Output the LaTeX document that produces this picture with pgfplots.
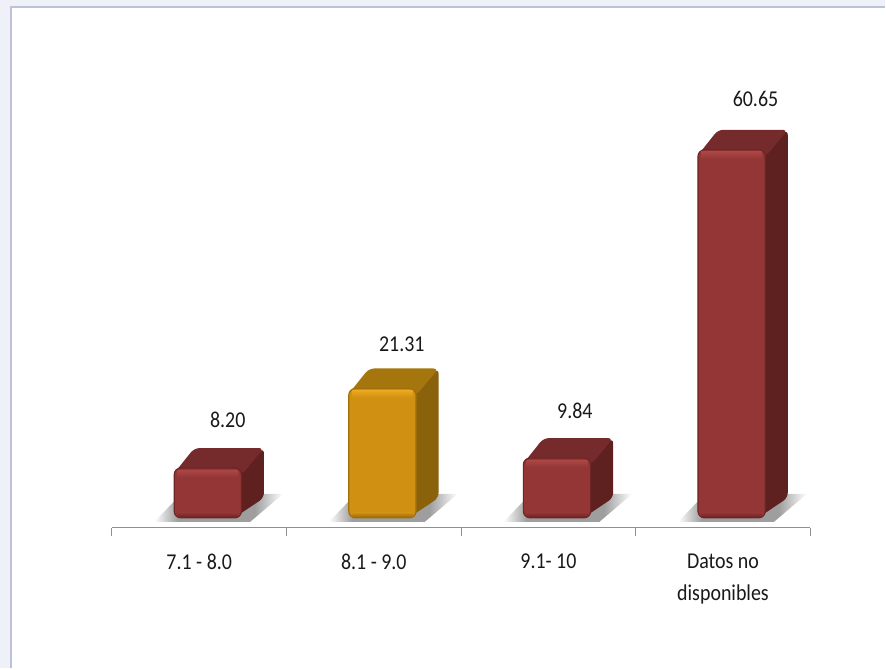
\documentclass[border=0pt]{standalone}
\usepackage{pgfplots}
\pgfplotsset{compat=1.18}
\usepackage{fontspec}
\setmainfont[FakeStretch=0.88]{Carlito}
\definecolor{pagebg}{HTML}{EEF2F8}
\definecolor{panelline}{HTML}{BFC0DA}
\definecolor{axisgray}{HTML}{8F9090}
\definecolor{redfront}{HTML}{943636}
\definecolor{redtop}{HTML}{752B2B}
\definecolor{redside}{HTML}{5E2120}
\definecolor{redlight}{HTML}{AB4645}
\definecolor{reddark}{HTML}{6E2525}
\definecolor{orfront}{HTML}{D09012}
\definecolor{ortop}{HTML}{A6760E}
\definecolor{orside}{HTML}{8A620C}
\definecolor{orlight}{HTML}{EAA71F}
\definecolor{ordark}{HTML}{9F6F0C}
\colorlet{shadowgray}{black!38}
\pgfdeclarehorizontalshading{floorsh}{100bp}{color(0bp)=(white); color(25bp)=(white); color(34bp)=(shadowgray); color(64bp)=(shadowgray); color(75bp)=(white); color(100bp)=(white)}
\pgfplotsset{
  face/.style={sharp plot,fill=#1,draw=none,mark=none,rounded corners=4pt},
  floorshadow/.style={sharp plot,draw=none,mark=none,shading=floorsh},
  strip/.style 2 args={sharp plot,draw=none,mark=none,top color=#1,bottom color=#2},
  frontbar/.style 2 args={ybar,bar width=50.5pt,bar shift=6.45pt,fill=#1,draw=#2,line width=.9pt,rounded corners=5pt},
  valuelabel/.style 2 args={nodes near coords={\pgfmathprintnumber[fixed,fixed zerofill,precision=2,assume math mode=true]{\pgfplotspointmeta}},
    nodes near coords style={anchor=center,xshift=#1*0.75pt,yshift=#2*0.75pt,font=\fontsize{17}{20}\selectfont,text=black!90}},
}
\begin{document}
\begin{tikzpicture}
\fill[pagebg] (0,0) rectangle (664.5pt,501.75pt);
\fill[white] (8.25pt,0) rectangle (664.5pt,496.5pt);
\draw[panelline,line width=1.1pt] (8.25pt,0) -- (8.25pt,496.5pt) -- (664.5pt,496.5pt);
\begin{axis}[
  at={(84pt,105.75pt)},anchor=south west,
  scale only axis,width=524.25pt,height=390.75pt,
  xmin=-0.5,xmax=3.5,ymin=-1.6,ymax=84.18,
  clip=false,
  axis y line=none,axis x line*=bottom,
  axis line style={-,axisgray,line width=.9pt},
  xtick={0,1,2,3},
  xticklabels={{7.1 - 8.0},{8.1 - 9.0},{9.1- 10},{Datos no\\disponibles}},
  major tick length=0pt,
  xticklabel style={align=center,anchor=north,yshift=-16.5pt,font=\fontsize{17}{24}\selectfont,text=black!90},
  extra x ticks={-0.5,0.5,1.5,2.5,3.5},
  extra x tick labels={},
  extra x tick style={major tick length=6pt,tick align=outside,tick style={axisgray,line width=.7pt}},
]
% floor shadows
\addplot[floorshadow] coordinates {(-0.257,-0.66)(0.292,-0.66)(0.48,3.95)(-0.102,3.95)} -- cycle;
\addplot[floorshadow] coordinates {(0.743,-0.66)(1.292,-0.66)(1.48,3.95)(0.898,3.95)} -- cycle;
\addplot[floorshadow] coordinates {(1.743,-0.66)(2.292,-0.66)(2.48,3.95)(1.898,3.95)} -- cycle;
\addplot[floorshadow] coordinates {(2.743,-0.66)(3.292,-0.66)(3.48,3.95)(2.898,3.95)} -- cycle;
% side faces
\addplot[face=redside] coordinates {(0.2,0)(0.371,3.3)(0.371,11.5)(0.2,8.2)} -- cycle;
\addplot[face=orside]  coordinates {(1.2,0)(1.371,3.3)(1.371,24.61)(1.2,21.31)} -- cycle;
\addplot[face=redside] coordinates {(2.2,0)(2.371,3.3)(2.371,13.14)(2.2,9.84)} -- cycle;
\addplot[face=redside] coordinates {(3.2,0)(3.371,3.3)(3.371,63.95)(3.2,60.65)} -- cycle;
% top faces
\addplot[face=redtop] coordinates {(-0.148,7.2)(0.246,7.2)(0.371,11.5)(-0.028,11.5)} -- cycle;
\addplot[face=ortop]  coordinates {(0.852,20.3)(1.246,20.3)(1.371,24.61)(0.972,24.61)} -- cycle;
\addplot[face=redtop] coordinates {(1.852,8.8)(2.246,8.8)(2.371,13.14)(1.972,13.14)} -- cycle;
\addplot[face=redtop] coordinates {(2.852,59.6)(3.246,59.6)(3.371,63.95)(2.972,63.95)} -- cycle;
% front bars, from the values
\addplot[frontbar={redfront}{reddark},valuelabel={28.5}{48}] coordinates {(0,8.20)};
\addplot[frontbar={orfront}{ordark},valuelabel={28}{44}] coordinates {(1,21.31)};
\addplot[frontbar={redfront}{reddark},valuelabel={26.5}{47}] coordinates {(2,9.84)};
\addplot[frontbar={redfront}{reddark},valuelabel={32.5}{51}] coordinates {(3,60.65)};
% bevel: light top edge
\addplot[strip={redlight}{redfront}] coordinates {(-0.125,7.85)(0.223,7.85)(0.223,6.7)(-0.125,6.7)} -- cycle;
\addplot[strip={orlight}{orfront}] coordinates {(0.875,20.95)(1.223,20.95)(1.223,19.8)(0.875,19.8)} -- cycle;
\addplot[strip={redlight}{redfront}] coordinates {(1.875,9.49)(2.223,9.49)(2.223,8.34)(1.875,8.34)} -- cycle;
\addplot[strip={redlight}{redfront}] coordinates {(2.875,60.3)(3.223,60.3)(3.223,59.15)(2.875,59.15)} -- cycle;
% bevel: dark bottom edge
\addplot[strip={redfront}{reddark}] coordinates {(-0.125,0.9)(0.223,0.9)(0.223,0.15)(-0.125,0.15)} -- cycle;
\addplot[strip={orfront}{ordark}] coordinates {(0.875,0.9)(1.223,0.9)(1.223,0.15)(0.875,0.15)} -- cycle;
\addplot[strip={redfront}{reddark}] coordinates {(1.875,0.9)(2.223,0.9)(2.223,0.15)(1.875,0.15)} -- cycle;
\addplot[strip={redfront}{reddark}] coordinates {(2.875,0.9)(3.223,0.9)(3.223,0.15)(2.875,0.15)} -- cycle;
\end{axis}
\end{tikzpicture}
\end{document}
